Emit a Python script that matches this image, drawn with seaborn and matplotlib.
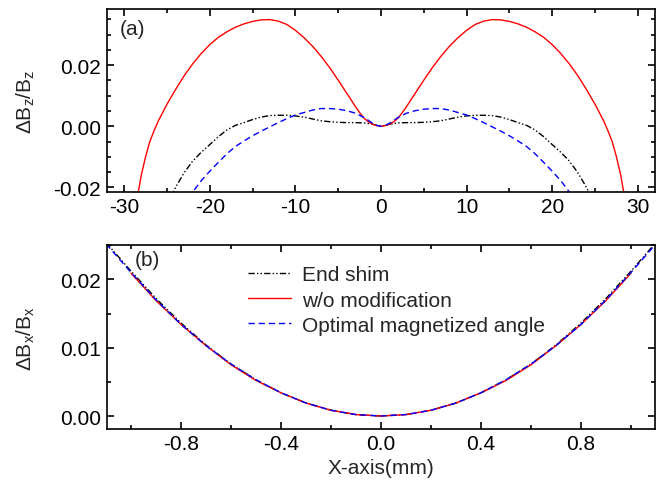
import numpy as np
import pandas as pd
import matplotlib
matplotlib.use("Agg")
import matplotlib.pyplot as plt
import seaborn as sns

# ---- panel (a): field homogeneity dBz/Bz along the axis ----
za_red_x = [-28.5, -28, -27.5, -27, -26.5, -26, -25, -24, -23, -22, -21, -20, -19, -18, -17, -16,
            -15, -14, -13, -12, -11, -10, -9, -8, -7, -6, -5, -4, -3.5, -3, -2.5, -2, -1.5, -1,
            -0.5, 0,
            0.5, 1, 1.5, 2, 2.5, 3, 3.5, 4, 5, 6, 7, 8, 9, 10, 11, 12, 13, 14, 15, 16, 17, 18,
            19, 20, 21, 22, 23, 24, 25, 26, 26.5, 27, 27.5, 28, 28.5]
za_red_y = [-0.0240, -0.0160, -0.0100, -0.0050, -0.0014, 0.0018, 0.0072, 0.0120, 0.0165, 0.0204,
            0.0238, 0.0267, 0.0291, 0.0309, 0.0324, 0.0335, 0.0343, 0.0348, 0.0349, 0.0344,
            0.0333, 0.0314, 0.0290, 0.0262, 0.0229, 0.0192, 0.0151, 0.0108, 0.0087, 0.0065,
            0.0045, 0.0027, 0.0015, 0.0007, 0.0002, 0.0,
            0.0002, 0.0007, 0.0015, 0.0027, 0.0045, 0.0065, 0.0087, 0.0108, 0.0151, 0.0192,
            0.0229, 0.0262, 0.0290, 0.0314, 0.0333, 0.0344, 0.0349, 0.0348, 0.0343, 0.0335,
            0.0324, 0.0309, 0.0291, 0.0267, 0.0238, 0.0204, 0.0165, 0.0120, 0.0072, 0.0018,
            -0.0014, -0.0050, -0.0100, -0.0160, -0.0240]

za_shim_x = [-24.5, -24, -23, -22, -21, -20, -19, -18, -17, -16, -15, -14, -13, -12, -11, -10,
             -9, -8, -7, -6, -5, -4, -3, -2, -1.5, -1, -0.5, 0,
             0.5, 1, 1.5, 2, 3, 4, 5, 6, 7, 8, 9, 10, 11, 12, 13, 14, 15, 16, 17, 18,
             19, 20, 21, 22, 23, 24, 24.5]
za_shim_y = [-0.0230, -0.0200, -0.0152, -0.0114, -0.0085, -0.0060, -0.0034, -0.0012, 0.0003,
             0.0012, 0.0022, 0.0030, 0.0035, 0.0036, 0.0036, 0.0034, 0.0030, 0.0024, 0.0018,
             0.0015, 0.0013, 0.0012, 0.0012, 0.0011, 0.0009, 0.0007, 0.0003, 0.0,
             0.0003, 0.0007, 0.0009, 0.0011, 0.0012, 0.0012, 0.0013, 0.0015, 0.0018, 0.0024,
             0.0030, 0.0034, 0.0036, 0.0036, 0.0035, 0.0030, 0.0022, 0.0012, 0.0003, -0.0012,
             -0.0034, -0.0060, -0.0085, -0.0114, -0.0152, -0.0200, -0.0230]

za_opt_x = [-22.5, -22, -21, -20, -19, -18, -17, -16, -15, -14, -13, -12, -11, -10,
            -9, -8, -7, -6, -5, -4, -3, -2, -1.5, -1, -0.5, 0,
            0.5, 1, 1.5, 2, 3, 4, 5, 6, 7, 8, 9, 10, 11, 12, 13, 14, 15, 16, 17, 18,
            19, 20, 21, 22, 22.5]
za_opt_y = [-0.0235, -0.0215, -0.0178, -0.0147, -0.0118, -0.0090, -0.0066, -0.0048, -0.0031,
            -0.0016, -0.0002, 0.0012, 0.0025, 0.0037, 0.0045, 0.0053, 0.0058, 0.0058, 0.0056,
            0.0051, 0.0043, 0.0029, 0.0020, 0.0010, 0.0003, 0.0,
            0.0003, 0.0010, 0.0020, 0.0029, 0.0043, 0.0051, 0.0056, 0.0058, 0.0058, 0.0053,
            0.0045, 0.0037, 0.0025, 0.0012, -0.0002, -0.0016, -0.0031, -0.0048, -0.0066,
            -0.0090, -0.0118, -0.0147, -0.0178, -0.0215, -0.0235]

# ---- panel (b): dBx/Bx across the gap ----
xb_x = [-1.1, -1.0, -0.9, -0.8, -0.7, -0.6, -0.5, -0.4, -0.3, -0.2, -0.1, 0.0,
        0.1, 0.2, 0.3, 0.4, 0.5, 0.6, 0.7, 0.8, 0.9, 1.0, 1.1]
xb_shim_y = [0.0254, 0.0212, 0.0172, 0.0136, 0.0104, 0.0076, 0.0053, 0.0034, 0.0019, 0.00085,
             0.00021, 0.0, 0.00021, 0.00085, 0.0019, 0.0034, 0.0053, 0.0076, 0.0104, 0.0136,
             0.0172, 0.0212, 0.0254]
xb_opt_y = [0.0252, 0.0210, 0.0170, 0.0134, 0.0103, 0.0076, 0.0053, 0.0034, 0.0019, 0.00084,
            0.00021, 0.0, 0.00021, 0.00084, 0.0019, 0.0034, 0.0053, 0.0076, 0.0103, 0.0134,
            0.0170, 0.0210, 0.0252]
xb_red_x = [-1.0, -0.9, -0.8, -0.7, -0.6, -0.5, -0.4, -0.3, -0.2, -0.1, 0.0,
            0.1, 0.2, 0.3, 0.4, 0.5, 0.6, 0.7, 0.8, 0.9, 1.0]
xb_red_y = [0.0209, 0.0169, 0.0134, 0.0103, 0.0075, 0.0052, 0.0034, 0.0019, 0.00084, 0.00021, 0.0,
            0.00021, 0.00084, 0.0019, 0.0034, 0.0052, 0.0075, 0.0103, 0.0134, 0.0169, 0.0209]

labels = ["End shim", "w/o modification", "Optimal magnetized angle"]

sns.set_style("ticks", {
    "xtick.direction": "in", "ytick.direction": "in",
    "axes.edgecolor": "black", "xtick.color": "black", "ytick.color": "black",
})
plt.rcParams["font.family"] = ["Liberation Sans", "DejaVu Sans"]
plt.rcParams["mathtext.default"] = "regular"
plt.rcParams["axes.unicode_minus"] = False
FS = 15

fig = plt.figure(figsize=(6.61, 4.85), dpi=100)
ax1 = fig.add_axes([0.1619, 0.602, 0.829, 0.377])
ax2 = fig.add_axes([0.1619, 0.1134, 0.829, 0.379])

shim_ls = (0, (4.5, 1.6, 1.0, 1.6, 1.0, 1.6))
opt_ls = (0, (4.5, 2.8))
LW = 1.0

sns.lineplot(x=za_shim_x, y=za_shim_y, ax=ax1, color="black", linestyle=shim_ls,
             linewidth=LW, sort=False, estimator=None)
sns.lineplot(x=za_red_x, y=za_red_y, ax=ax1, color="#ff0000", linewidth=LW,
             sort=False, estimator=None)
sns.lineplot(x=za_opt_x, y=za_opt_y, ax=ax1, color="#0000ff", linestyle=opt_ls,
             linewidth=LW, sort=False, estimator=None)

sns.lineplot(x=xb_x, y=xb_shim_y, ax=ax2, color="black", linestyle=shim_ls,
             linewidth=LW, sort=False, estimator=None, label=labels[0])
sns.lineplot(x=xb_red_x, y=xb_red_y, ax=ax2, color="#ff0000", linewidth=LW,
             sort=False, estimator=None, label=labels[1])
sns.lineplot(x=xb_x, y=xb_opt_y, ax=ax2, color="#0000ff", linestyle=opt_ls,
             linewidth=LW, sort=False, estimator=None, label=labels[2])

ax1.set_xlim(-32, 32)
ax1.set_ylim(-0.0215, 0.0383)
ax1.set_xticks([-30, -20, -10, 0, 10, 20, 30])
ax1.set_xticklabels(["-30", "-20", "-10", "0", "10", "20", "30"])
ax1.set_xticks(np.arange(-30, 31, 5), minor=True)
ax1.set_yticks([-0.02, 0.0, 0.02])
ax1.set_yticks(np.arange(-0.02, 0.0351, 0.005), minor=True)
ax1.set_yticklabels(["-0.02", "0.00", "0.02"])
ax1.set_ylabel(r"$\Delta B_z/B_z$", fontsize=FS)
ax1.yaxis.set_label_coords(-0.128, 0.5)
ax1.set_xlabel("")
ax1.text(0.024, 0.895, "(a)", transform=ax1.transAxes, fontsize=FS, va="center", ha="left")

ax2.set_xlim(-1.096, 1.096)
ax2.set_ylim(-0.0019, 0.025)
ax2.set_xticks([-0.8, -0.4, 0.0, 0.4, 0.8])
ax2.set_xticklabels(["-0.8", "-0.4", "0.0", "0.4", "0.8"])
ax2.set_xticks(np.arange(-1.0, 1.01, 0.2), minor=True)
ax2.set_yticks([0.0, 0.01, 0.02])
ax2.set_yticklabels(["0.00", "0.01", "0.02"])
ax2.set_yticks(np.arange(0.0, 0.0251, 0.005), minor=True)
ax2.set_ylabel(r"$\Delta B_x/B_x$", fontsize=FS)
ax2.yaxis.set_label_coords(-0.128, 0.5)
ax2.set_xlabel("X-axis(mm)", fontsize=FS, labelpad=4)
ax2.text(0.051, 0.924, "(b)", transform=ax2.transAxes, fontsize=FS, va="center", ha="left")

for ax in (ax1, ax2):
    for s in ax.spines.values():
        s.set_linewidth(1.2)
        s.set_visible(True)
    ax.tick_params(which="both", direction="in", top=True, right=True, labelsize=FS,
                   width=1.2)
    ax.tick_params(which="major", length=5)
    ax.tick_params(which="minor", length=3)
    ax.tick_params(axis="x", pad=3.5)
    ax.tick_params(axis="y", pad=4.5)

ax2.legend(loc="upper left", bbox_to_anchor=(0.23, 0.97), frameon=False, fontsize=FS,
           handlelength=2.1, handletextpad=0.5, labelspacing=0.3, borderpad=0.2)

fig.savefig("out.png", dpi=100)
